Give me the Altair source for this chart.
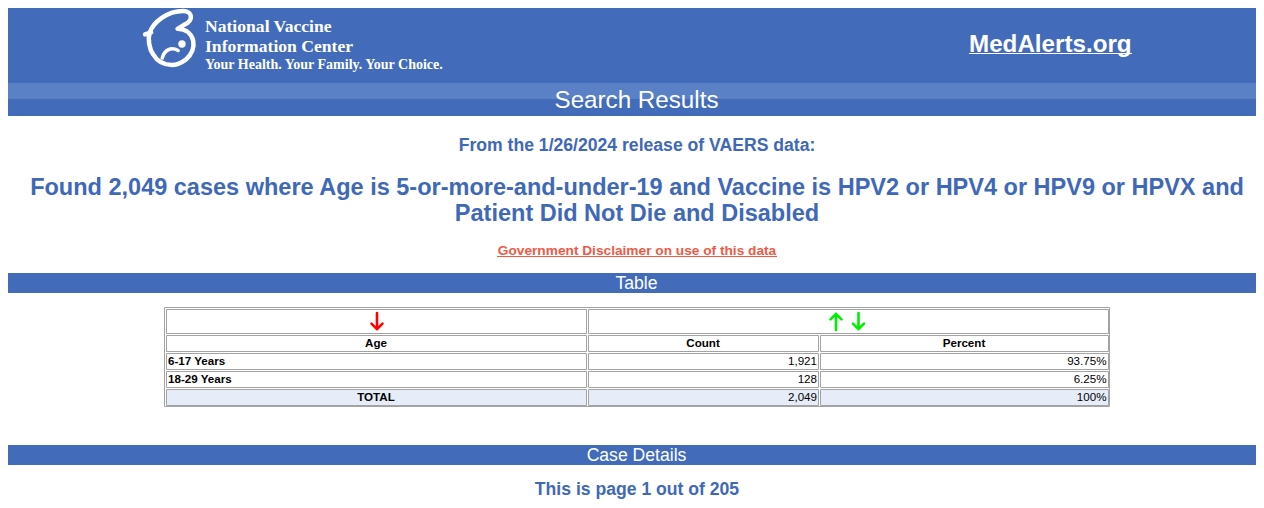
import altair as alt
import pandas as pd

# ---------------- data ----------------
age_groups = ["6-17 Years", "18-29 Years"]
case_counts = [1921, 128]
case_percents = [93.75, 6.25]
total_label = "TOTAL"
column_headers = ["Age", "Count", "Percent"]
release_date = "1/26/2024"
current_page = 1
total_pages = 205
org_lines = ["National Vaccine", "Information Center"]
tagline = "Your Health. Your Family. Your Choice."
site_name = "MedAlerts.org"
page_title = "Search Results"
section_titles = ["Table", "Case Details"]
query_text_1 = "where Age is 5-or-more-and-under-19 and Vaccine is HPV2 or HPV4 or HPV9 or HPVX and"
query_text_2 = "Patient Did Not Die and Disabled"
disclaimer = "Government Disclaimer on use of this data"

total_count = sum(case_counts)
total_percent = sum(case_percents)

# ---------------- styles / layout (page pixel coordinates) ----------------
BLUE = "#426bba"
BLUE_LIGHT = "#5a80c6"
TEXT_BLUE = "#4068b8"
RED_LINK = "#ef5a45"
GRID = "#a3a3a3"
TOTAL_FILL = "#e6edf9"
SANS = "Liberation Sans"
SERIF = "Liberation Serif"

X = alt.X("x:Q", scale=alt.Scale(domain=[8, 1256], range=[0, 1248], nice=False, zero=False), axis=None)
Y = alt.Y("y:Q", scale=alt.Scale(domain=[8, 500], range=[0, 492], nice=False, zero=False), axis=None)

col_age = (166, 586)
col_cnt = (588, 818)
col_pct = (820, 1108)
row_top = [309, 335, 353, 371, 389]
row_bot = [333, 351, 369, 387, 405]

rect_rows = [
    dict(x=0, x2=1258, y=0, y2=116, fill=BLUE, stroke=BLUE, sw=0),
    dict(x=0, x2=1258, y=83, y2=99, fill=BLUE_LIGHT, stroke=BLUE_LIGHT, sw=0),
    dict(x=0, x2=1258, y=273, y2=293, fill=BLUE, stroke=BLUE, sw=0),
    dict(x=0, x2=1258, y=445, y2=465, fill=BLUE, stroke=BLUE, sw=0),
    dict(x=164.5, x2=1109.5, y=307.5, y2=406.5, fill="#ffffff", stroke=GRID, sw=1),
    dict(x=col_age[0] + .5, x2=col_age[1] + .5, y=row_top[0] + .5, y2=row_bot[0] + .5, fill="#ffffff", stroke=GRID, sw=1),
    dict(x=col_cnt[0] + .5, x2=col_pct[1] + .5, y=row_top[0] + .5, y2=row_bot[0] + .5, fill="#ffffff", stroke=GRID, sw=1),
]
for r in range(1, 5):
    fill = TOTAL_FILL if r == 4 else "#ffffff"
    for c in (col_age, col_cnt, col_pct):
        rect_rows.append(dict(x=c[0] + .5, x2=c[1] + .5, y=row_top[r] + .5, y2=row_bot[r] + .5,
                              fill=fill, stroke=GRID, sw=1))
rects = alt.Chart(pd.DataFrame(rect_rows)).mark_rect().encode(
    x=X, x2="x2:Q", y=Y, y2="y2:Q",
    fill=alt.Fill("fill:N", scale=None),
    stroke=alt.Stroke("stroke:N", scale=None),
    strokeWidth=alt.StrokeWidth("sw:Q", scale=None),
)


def texts(rows, **kw):
    return alt.Chart(pd.DataFrame(rows)).mark_text(baseline="middle", **kw).encode(x=X, y=Y, text="t:N")


def glyph(x, y, path, size, sw, color):
    return alt.Chart(pd.DataFrame([dict(x=x, y=y)])).mark_point(
        shape=path, size=size, filled=False, stroke=color, strokeWidth=sw, opacity=1,
        strokeCap="round", strokeJoin="round").encode(x=X, y=Y)


layers = [rects]

# logo
logo_outer = ("M -0.8 -0.2 C -0.67 -0.57 -0.17 -0.97 0.4 -0.97 C 0.73 -0.97 0.8 -0.63 0.43 -0.47 "
              "L 0.2 -0.33 C 0.87 -0.3 0.93 0.43 0.5 0.77 C 0.33 0.9 0.15 0.97 0 0.97 "
              "C -0.33 0.97 -0.55 0.8 -0.67 0.6 C -0.83 0.37 -0.87 0.03 -0.8 -0.2 M -0.97 -0.13 L -0.75 -0.2")
logo_inner = "M -0.35 0.72 C -0.28 0.45 -0.05 0.3 0.22 0.45"
layers.append(glyph(172, 38, logo_outer, 3100, 4.5, "white"))
layers.append(glyph(172, 38, logo_inner, 3100, 3.5, "white"))
layers.append(alt.Chart(pd.DataFrame([dict(x=182, y=44)])).mark_point(
    shape="circle", size=55, filled=True, color="white", opacity=1).encode(x=X, y=Y))

# header texts
layers.append(texts([dict(x=205, y=26.5, t=org_lines[0]), dict(x=205, y=46.5, t=org_lines[1])],
                    align="left", font=SERIF, fontWeight="bold", fontSize=17.6, color="white"))
layers.append(texts([dict(x=205, y=64.5, t=tagline)],
                    align="left", font=SERIF, fontWeight="bold", fontSize=14, color="white"))
layers.append(texts([dict(x=969, y=44.5, t=site_name)],
                    align="left", font=SANS, fontWeight="bold", fontSize=24.2, color="white"))
layers.append(texts([dict(x=636.5, y=100.5, t=page_title)],
                    align="center", font=SANS, fontSize=24.2, color="white"))
layers.append(texts([dict(x=636.5, y=284, t=section_titles[0]), dict(x=636.5, y=455.5, t=section_titles[1])],
                    align="center", font=SANS, fontSize=17.6, color="white"))

# blue headings
layers.append(texts([dict(x=637, y=146, t=f"From the {release_date} release of VAERS data:"),
                     dict(x=637, y=490, t=f"This is page {current_page} out of {total_pages}")],
                    align="center", font=SANS, fontWeight="bold", fontSize=17.6, color=TEXT_BLUE))
layers.append(texts([dict(x=637, y=188, t=f"Found {total_count:,} cases {query_text_1}"),
                     dict(x=637, y=214, t=query_text_2)],
                    align="center", font=SANS, fontWeight="bold", fontSize=23.5, color=TEXT_BLUE))
layers.append(texts([dict(x=637, y=250.5, t=disclaimer)],
                    align="center", font=SANS, fontWeight="bold", fontSize=13.7, color=RED_LINK))

# underlines
ul = pd.DataFrame([dict(x=969, x2=1132, y=53.5, c="white"), dict(x=497, x2=777, y=256.5, c=RED_LINK)])
layers.append(alt.Chart(ul).mark_rule(strokeWidth=1).encode(
    x=X, x2="x2:Q", y=Y, color=alt.Color("c:N", scale=None)))

# sort arrows
down_arrow = "M 0 -1 L 0 0.9 M -0.65 0.25 L 0 0.9 L 0.65 0.25"
up_arrow = "M 0 1 L 0 -0.9 M -0.65 -0.25 L 0 -0.9 L 0.65 -0.25"
layers.append(glyph(377, 321.5, down_arrow, 289, 2.6, "#ff0000"))
layers.append(glyph(836, 321.5, up_arrow, 289, 2.6, "#00ee00"))
layers.append(glyph(858.5, 321.5, down_arrow, 289, 2.6, "#00ee00"))

# table texts
centers = [(col_age[0] + col_age[1]) / 2, (col_cnt[0] + col_cnt[1]) / 2, (col_pct[0] + col_pct[1]) / 2]
mid = [(row_top[r] + row_bot[r]) / 2 + 0.5 for r in range(5)]
head_rows = [dict(x=centers[i], y=mid[1], t=column_headers[i]) for i in range(3)]
head_rows.append(dict(x=centers[0], y=mid[4], t=total_label))
layers.append(texts(head_rows, align="center", font=SANS, fontWeight="bold", fontSize=11.6, color="black"))
layers.append(texts([dict(x=168, y=mid[2 + i], t=age_groups[i]) for i in range(len(age_groups))],
                    align="left", font=SANS, fontWeight="bold", fontSize=11.6, color="black"))


def pct(v):
    return f"{v:.0f}%" if abs(v - round(v)) < 1e-9 else f"{v:.2f}%"


num_rows = []
for i in range(len(age_groups)):
    num_rows.append(dict(x=817, y=mid[2 + i], t=f"{case_counts[i]:,}"))
    num_rows.append(dict(x=1106.5, y=mid[2 + i], t=pct(case_percents[i])))
num_rows.append(dict(x=817, y=mid[4], t=f"{total_count:,}"))
num_rows.append(dict(x=1106.5, y=mid[4], t=pct(total_percent)))
layers.append(texts(num_rows, align="right", font=SANS, fontSize=11.6, color="black"))

chart = alt.layer(*layers).properties(
    width=1248, height=492, autosize=alt.AutoSizeParams(type="none"), padding=0, background="white"
).configure_view(stroke=None)

chart.save("out.html", embed_options={"renderer": "svg", "actions": False})
